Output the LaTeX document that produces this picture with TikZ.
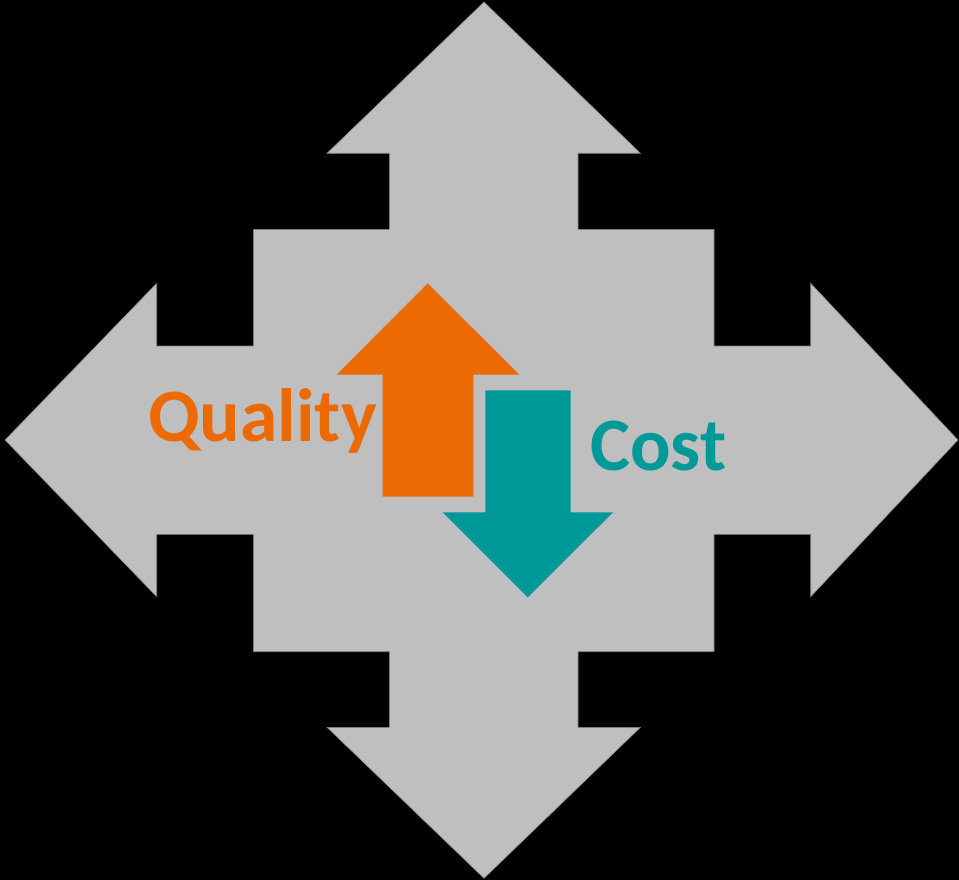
\documentclass[tikz,border=0pt]{standalone}
\usepackage{fontspec}
\setmainfont{Carlito}
\definecolor{bggrey}{RGB}{191,191,191}
\definecolor{edgegrey}{RGB}{128,128,128}
\definecolor{qorange}{RGB}{236,106,4}
\definecolor{cteal}{RGB}{0,153,153}
\tikzset{
  greyshape/.style={fill=bggrey, draw=edgegrey, line width=0.6pt, line join=miter},
  upshape/.style={fill=qorange},
  downshape/.style={fill=cteal},
  lbl/.style={font=\fontsize{75.5}{75.5}\selectfont\bfseries, inner sep=0pt, anchor=base west}
}
\begin{document}
\begin{tikzpicture}[x=1pt,y=-1pt]
\fill[black] (0,0) rectangle (959,880);
\useasboundingbox (0,0) rectangle (959,880);
% four-way grey arrow
\path[greyshape]
  (484,2) -- (640.5,153.3) -- (578,153.3) -- (578,229.3) -- (714,229.3) -- (714,346)
  -- (810.7,346) -- (810.7,283.3) -- (958,440) -- (810.7,596.7) -- (810.7,534.3)
  -- (714,534.3) -- (714,651.7) -- (578,651.7) -- (578,727.3) -- (640.5,727.3)
  -- (484,878.3) -- (327,727.3) -- (389.3,727.3) -- (389.3,651.7) -- (253.3,651.7)
  -- (253.3,534.3) -- (156.7,534.3) -- (156.7,596.7) -- (5,440) -- (156.7,283.3)
  -- (156.7,346) -- (253.3,346) -- (253.3,229.3) -- (389.3,229.3) -- (389.3,153.3)
  -- (327,153.3) -- cycle;
% orange up arrow
\path[upshape]
  (427.7,283.3) -- (519.3,374.7) -- (473.3,374.7) -- (473.3,496.7) -- (382.7,496.7)
  -- (382.7,374.7) -- (336.7,374.7) -- cycle;
% teal down arrow
\path[downshape]
  (485.3,390.3) -- (570.7,390.3) -- (570.7,512.3) -- (613,512.3) -- (527.7,597.3)
  -- (442.7,512.3) -- (485.3,512.3) -- cycle;
\node[lbl, text=qorange] (quality) at (148,441.5) {Quality};
\node[lbl, text=cteal] (cost) at (590,470) {Cost};
\end{tikzpicture}
\end{document}
